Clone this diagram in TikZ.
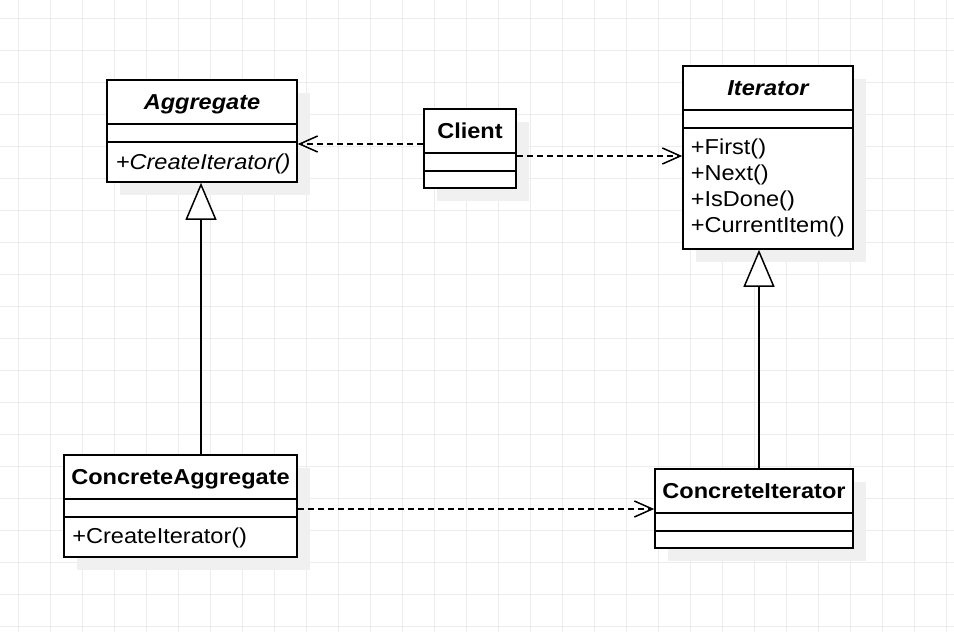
\documentclass[tikz,border=0pt]{standalone}
\usepackage{fontspec}
\setmainfont[FakeStretch=1.09]{Liberation Sans}
\usetikzlibrary{arrows.meta,shadows}
\definecolor{gridc}{RGB}{236,236,236}
\definecolor{shadowc}{RGB}{240,240,240}
\tikzset{
  gridline/.style={draw=gridc, line width=1pt},
  classbox/.style={draw=black, fill=white, line width=1.6pt, inner sep=0pt, rectangle,
    drop shadow={shadow xshift=13pt, shadow yshift=-13pt, fill=shadowc, opacity=1, draw=none}},
  divider/.style={draw=black, line width=1.6pt},
  txt/.style={inner sep=0pt, font=\fontsize{21.6pt}{26pt}\selectfont},
  hdr/.style={txt, anchor=base, font=\fontsize{21.6pt}{26pt}\selectfont\bfseries},
  meth/.style={txt, anchor=base west},
  dep/.style={draw=black, line width=1.6pt, dash pattern=on 6pt off 4pt,
    -{Straight Barb[length=18pt, width=16pt, line width=1.5pt]}},
  inherit/.style={draw=black, line width=1.5pt,
    -{Triangle[open, length=37pt, width=31pt, fill=white, line width=1.5pt]}}
}
\begin{document}
\begin{tikzpicture}[x=1pt, y=-1pt]
\useasboundingbox (0,0) rectangle (954,632);
\fill[white] (0,0) rectangle (954,632);
% grid
\foreach \i in {0,...,29} \draw[gridline] (18.3+32*\i,0) -- (18.3+32*\i,632);
\foreach \j in {0,...,19} \draw[gridline] (0,18.3+32*\j) -- (954,18.3+32*\j);

% class boxes
\node[classbox, minimum width=190pt, minimum height=102pt] (agg) at (202,131) {};
\node[classbox, minimum width=92pt, minimum height=79pt] (client) at (470,148.5) {};
\node[classbox, minimum width=170pt, minimum height=183pt] (iter) at (768,157.5) {};
\node[classbox, minimum width=233pt, minimum height=102pt] (caggr) at (180.5,506) {};
\node[classbox, minimum width=198pt, minimum height=79pt] (citer) at (754,508.5) {};

% dividers
\foreach \b in {agg,client,iter,caggr,citer}{
  \draw[divider] ([yshift=-45pt]\b.north west) -- ([yshift=-45pt]\b.north east);
  \draw[divider] ([yshift=-62.5pt]\b.north west) -- ([yshift=-62.5pt]\b.north east);
}

% texts
\node[hdr] (aggT) at ([yshift=-30.25pt]agg.north) {\itshape Aggregate};
\node[meth] (aggM) at ([xshift=9.5pt,yshift=-90.3pt]agg.north west) {\itshape +CreateIterator()};
\node[hdr] (clientT) at ([yshift=-30.25pt]client.north) {Client};
\node[hdr] (iterT) at ([yshift=-30.25pt]iter.north) {\itshape Iterator};
\node[meth] (iterM1) at ([xshift=8.5pt,yshift=-89.7pt]iter.north west) {+First()};
\node[meth] (iterM2) at ([xshift=8.5pt,yshift=-115.7pt]iter.north west) {+Next()};
\node[meth] (iterM3) at ([xshift=8.5pt,yshift=-141.7pt]iter.north west) {+IsDone()};
\node[meth] (iterM4) at ([xshift=8.5pt,yshift=-167.7pt]iter.north west) {+CurrentItem()};
\node[hdr] (caggrT) at ([yshift=-29.8pt]caggr.north) {ConcreteAggregate};
\node[meth] (caggrM) at ([xshift=9pt,yshift=-89.5pt]caggr.north west) {+CreateIterator()};
\node[hdr] (citerT) at ([yshift=-30.25pt]citer.north) {ConcreteIterator};

% dependencies
\coordinate (c1) at ([yshift=4.5pt]client.west);
\draw[dep] (c1) -- (c1 -| agg.east);
\coordinate (c2) at ([yshift=-7.5pt]client.east);
\draw[dep] (c2) -- (c2 -| iter.west);
\coordinate (c3) at ([yshift=-3pt]caggr.east);
\draw[dep] (c3) -- (c3 -| citer.west);

% generalizations
\coordinate (g1) at ([xshift=-1pt]agg.south);
\draw[inherit] (g1 |- caggr.north) -- (g1);
\coordinate (g2) at ([xshift=-9pt]iter.south);
\draw[inherit] (g2 |- citer.north) -- (g2);
\end{tikzpicture}
\end{document}
